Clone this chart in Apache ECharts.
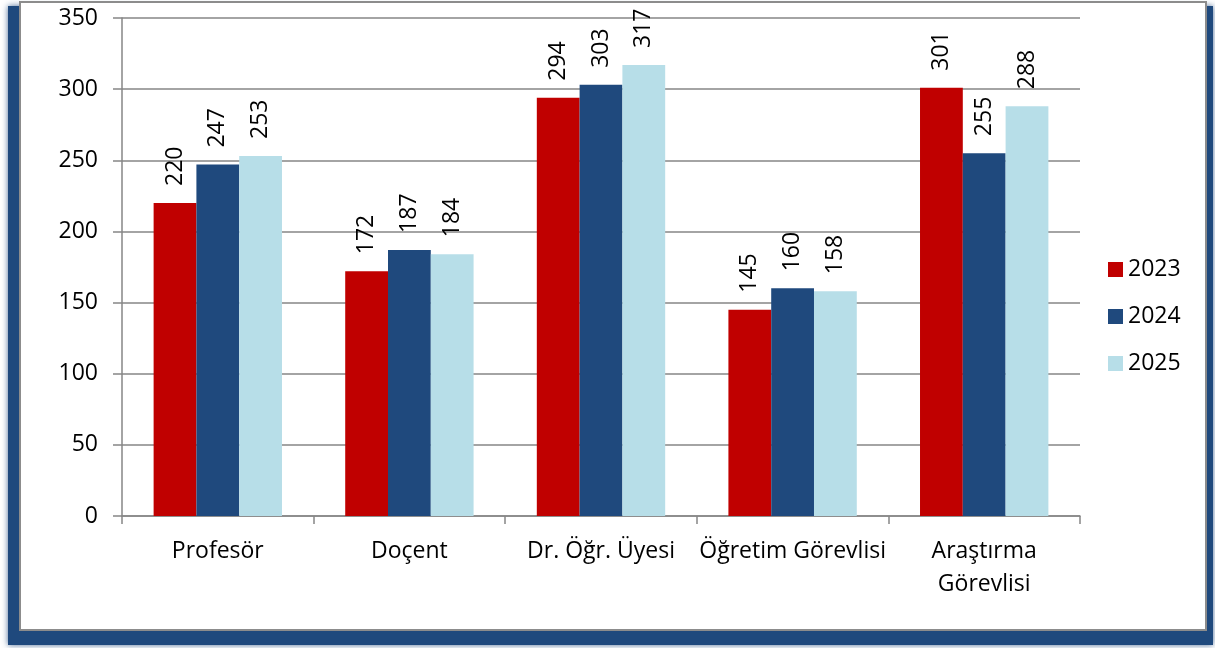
<!DOCTYPE html>
<html><head><meta charset="utf-8">
<script src="https://cdn.jsdelivr.net/npm/echarts@6/dist/echarts.min.js"></script>
<style>html,body{margin:0;padding:0;background:#fff}#c{width:1215px;height:648px}</style>
</head><body><div id="c"></div>
<script>
const categories = ['Profesör', 'Doçent', 'Dr. Öğr. Üyesi', 'Öğretim Görevlisi', 'Araştırma\nGörevlisi'];
const years = ['2023', '2024', '2025'];
const values2023 = [220, 172, 294, 145, 301];
const values2024 = [247, 187, 303, 160, 255];
const values2025 = [253, 184, 317, 158, 288];
const yTicks = {min: 0, max: 350, interval: 50};

const colors = ['#C00000', '#1F497D', '#B7DEE8'];
const font = 'Open Sans';
const chart = echarts.init(document.getElementById('c'), null, {renderer: 'canvas'});
const mk = (name, data, i) => ({
  name, type: 'bar', data, barGap: '0%', barCategoryGap: '33%',
  itemStyle: {color: colors[i]},
  label: {show: true, position: 'top', rotate: 90, align: 'left', verticalAlign: 'middle',
    distance: 17, fontFamily: font, fontSize: 23, color: '#000'}
});
chart.setOption({
  animation: false,
  graphic: [
    {type: 'rect', z: -10, shape: {x: 8, y: 6, width: 1205, height: 639},
      style: {fill: '#1F497D', shadowBlur: 6, shadowColor: 'rgba(31,73,125,0.8)'}},
    {type: 'rect', z: -9, shape: {x: 20, y: 2, width: 1186, height: 628},
      style: {fill: '#fff', stroke: '#8c8c8c', lineWidth: 2}}
  ],
  grid: {left: 122, right: 135, top: 18, bottom: 132, containLabel: false},
  legend: {orient: 'vertical', left: 1103, top: 253, itemWidth: 15, itemHeight: 15, itemGap: 24,
    icon: 'rect', data: years,
    textStyle: {fontFamily: font, fontSize: 23, color: '#000'}},
  xAxis: {type: 'category', data: categories,
    axisLine: {lineStyle: {color: '#868686', width: 1.5}},
    axisTick: {show: true, length: 8, lineStyle: {color: '#868686', width: 1.5}},
    axisLabel: {fontFamily: font, fontSize: 23, color: '#000', margin: 19, lineHeight: 33, interval: 0}},
  yAxis: {type: 'value', min: yTicks.min, max: yTicks.max, interval: yTicks.interval,
    axisLine: {show: true, lineStyle: {color: '#868686', width: 1.5}},
    axisTick: {show: true, length: 9, lineStyle: {color: '#868686', width: 1.5}},
    splitLine: {lineStyle: {color: '#868686', width: 1.5}},
    axisLabel: {fontFamily: font, fontSize: 23, color: '#000', margin: 24}},
  series: [mk(years[0], values2023, 0), mk(years[1], values2024, 1), mk(years[2], values2025, 2)]
});
</script></body></html>
